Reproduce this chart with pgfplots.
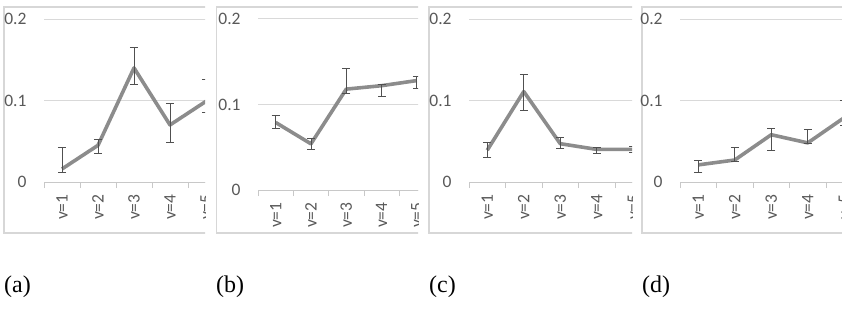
\documentclass[border=0pt]{standalone}
\usepackage{pgfplots}
\pgfplotsset{compat=1.18}
\usepackage{fontspec}
\setmainfont{Liberation Serif}
\newfontfamily\calibri{Carlito}

\definecolor{linegray}{RGB}{140,140,140}
\definecolor{errgray}{RGB}{80,80,80}
\definecolor{gridgray}{RGB}{217,217,217}
\definecolor{axisgray}{RGB}{200,200,200}
\definecolor{framegray}{RGB}{215,215,215}
\definecolor{labelgray}{RGB}{89,89,89}

\pgfplotsset{
  panel/.style={
    anchor=south west, scale only axis,
    xmin=0.5, xmax=5.5, ymin=0, ymax=0.2,
    axis lines*=left,
    y axis line style={draw=none},
    x axis line style={draw=axisgray, line width=1pt},
    xtick={1,2,3,4,5},
    xticklabels={v=1,v=2,v=3,v=4,v=5},
    major x tick style={draw=none},
    minor xtick={0.5,1.5,2.5,3.5,4.5,5.5},
    minor x tick style={draw=axisgray, line width=0.8pt},
    minor tick length=6pt,
    tick align=outside,
    ytick={0,0.1,0.2},
    yticklabels={0,0.1,0.2},
    major y tick style={draw=none},
    ymajorgrids,
    major grid style={draw=gridgray, line width=1pt},
    /pgf/number format/assume math mode=true,
    tick label style={font=\calibri\fontsize{17.5}{18}\selectfont, text=labelgray},
    yticklabel style={anchor=east, inner sep=0pt},
    yticklabel shift=13pt,
    xticklabel style={rotate=90, anchor=east, inner sep=0pt},
    xticklabel shift=8pt,
  },
  series/.style={
    linegray, line width=3.6pt, line join=round, mark=none,
    error bars/.cd, y dir=both, y explicit,
    error mark=-,
    error bar style={errgray, line width=0.8pt},
    error mark options={rotate=90, errgray, line width=0.8pt, mark size=4pt},
  },
}

\begin{document}
\begin{tikzpicture}[x=1pt, y=1pt]
\useasboundingbox (0,0) rectangle (842,308);

% (a)
\begin{scope}
\clip (0,0) rectangle (205,308);
\draw[framegray, line width=1.3pt] (4,75) rectangle (300,301);
\begin{axis}[panel, at={(44pt,126pt)}, width=180pt, height=163pt]
\addplot[series] coordinates {
  (1,0.016) += (0,0.027) -= (0,0.004)
  (2,0.045) += (0,0.007) -= (0,0.010)
  (3,0.140) += (0,0.025) -= (0,0.020)
  (4,0.070) += (0,0.027) -= (0,0.021)
  (5,0.099) += (0,0.027) -= (0,0.014)
};
\end{axis}
\end{scope}

% (b)
\begin{scope}
\clip (210,0) rectangle (418,308);
\draw[framegray, line width=1.3pt] (216.5,75) rectangle (520,301);
\begin{axis}[panel, at={(258pt,118pt)}, width=176.5pt, height=171pt]
\addplot[series] coordinates {
  (1,0.079) += (0,0.008) -= (0,0.007)
  (2,0.054) += (0,0.006) -= (0,0.007)
  (3,0.118) += (0,0.024) -= (0,0.005)
  (4,0.122) += (0,0.001) -= (0,0.013)
  (5,0.128) += (0,0.005) -= (0,0.009)
};
\end{axis}
\end{scope}

% (c)
\begin{scope}
\clip (425,0) rectangle (632,308);
\draw[framegray, line width=1.3pt] (429,75) rectangle (720,301);
\begin{axis}[panel, at={(469pt,126pt)}, width=182.5pt, height=163pt]
\addplot[series] coordinates {
  (1,0.039) += (0,0.009) -= (0,0.009)
  (2,0.111) += (0,0.021) -= (0,0.023)
  (3,0.047) += (0,0.008) -= (0,0.006)
  (4,0.040) += (0,0.003) -= (0,0.005)
  (5,0.040) += (0,0.004) -= (0,0.004)
};
\end{axis}
\end{scope}

% (d)
\begin{scope}
\clip (637,0) rectangle (842,308);
\draw[framegray, line width=1.3pt] (642,75) rectangle (940,301);
\begin{axis}[panel, at={(680pt,126pt)}, width=182.5pt, height=163pt]
\addplot[series] coordinates {
  (1,0.021) += (0,0.005) -= (0,0.009)
  (2,0.027) += (0,0.015) -= (0,0.002)
  (3,0.058) += (0,0.008) -= (0,0.019)
  (4,0.048) += (0,0.016) -= (0,0.001)
  (5,0.079) += (0,0.021) -= (0,0.010)
};
\end{axis}
\end{scope}

% sub-figure captions
\foreach \xx/\lab in {4/a, 216/b, 429/c, 642/d}
  \node[anchor=base west, inner sep=0pt, font=\fontsize{24}{28}\selectfont] at (\xx,16) {(\lab)};
\end{tikzpicture}
\end{document}
